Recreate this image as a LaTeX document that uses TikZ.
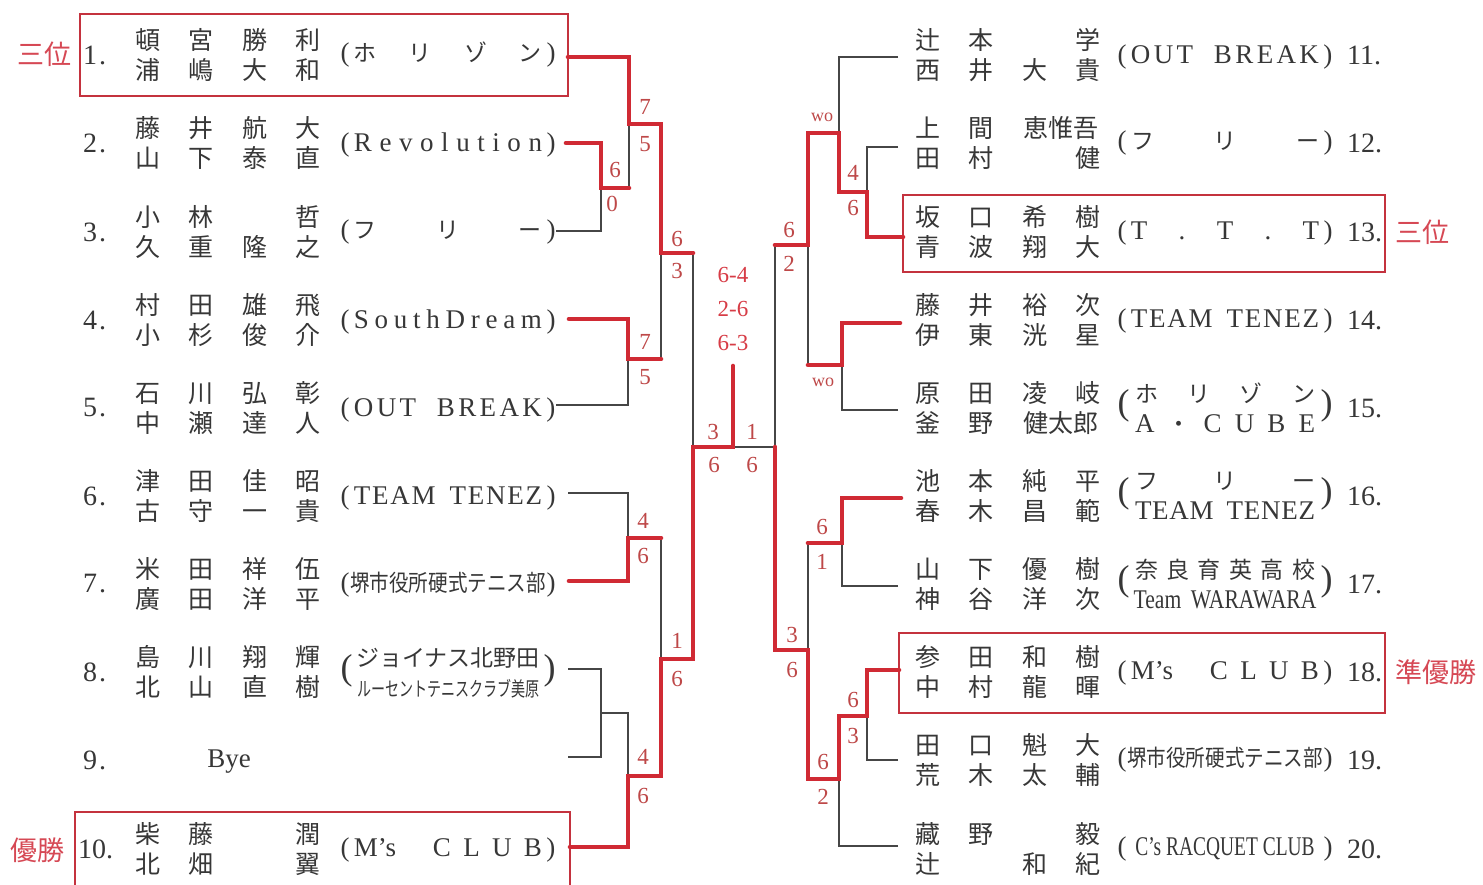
\documentclass[tikz,border=0pt]{standalone}
\usepackage{fontspec}
\usepackage{graphicx}
\setmainfont{Liberation Serif}
\newfontfamily\jp{Noto Sans CJK JP}
\definecolor{bred}{RGB}{208,42,52}
\definecolor{boxc}{RGB}{196,50,62}
\definecolor{lred}{RGB}{214,72,84}
\definecolor{scol}{RGB}{190,72,72}
\definecolor{fred}{RGB}{215,60,70}
\definecolor{txt}{RGB}{55,55,55}
\definecolor{lgray}{RGB}{70,70,70}
\newcommand\NR[4]{\makebox[53.5pt]{#1}\makebox[53.5pt]{#2}\makebox[53.5pt]{#3}\makebox[53.5pt]{#4}}
\newcommand\NRt[3]{\makebox[53.5pt]{#1}\makebox[53.5pt]{#2}\makebox[107pt]{#3}}
\newcommand\J[1]{{\jp #1}}
\newcommand\K[1]{{\jp\fontsize{23}{30}\selectfont #1}}
\newcommand\TS[1]{\makebox[215pt][s]{#1}}
\newcommand\BP[1]{{\fontsize{36}{36}\selectfont #1}}
\newcommand\TD[2]{\makebox[215pt][s]{\BP{(}\hfill\parbox[c]{188pt}{\centering #1\\#2}\hfill\BP{)}}}
\newcommand\OB{\TS{(\,O\hfill U\hfill T\hspace{14pt}\hfill\hfill B\hfill R\hfill E\hfill A\hfill K\,)}}
\newcommand\TT{T\hfill E\hfill A\hfill M\hspace{12pt}\hfill T\hfill E\hfill N\hfill E\hfill Z}
\begin{document}
\begin{tikzpicture}[x=1pt,y=-1pt,
  blk/.style={draw=lgray,line width=1.3pt},
  rd/.style={draw=bred,line width=4.6pt,line join=miter,line cap=round},
  boxst/.style={draw=boxc,line width=2.6pt},
  pn/.style={font=\jp\fontsize{25}{30}\selectfont,text=txt,inner sep=0pt,align=center},
  tn/.style={font=\fontsize{27}{30}\selectfont,text=txt,inner sep=0pt},
  num/.style={font=\fontsize{28}{30}\selectfont,text=txt,inner sep=0pt,anchor=west},
  lab/.style={font=\jp\fontsize{27}{30}\selectfont,text=lred,inner sep=0pt},
  sc/.style={font=\fontsize{23}{26}\selectfont,text=scol,inner sep=0pt},
  wo/.style={font=\fontsize{18}{20}\selectfont,text=scol,inner sep=0pt},
  fs/.style={font=\fontsize{23}{26}\selectfont,text=fred,inner sep=0pt}]
\useasboundingbox (0,0) rectangle (1483,885);
\fill[white] (0,0) rectangle (1483,885);

% ---------- boxes ----------
\draw[boxst] (80,14) rectangle (568,96);
\draw[boxst] (75,812) rectangle (570,890);
\draw[boxst] (903,195) rectangle (1385,272);
\draw[boxst] (899,633) rectangle (1385,713);

% ---------- labels ----------
\node[lab] (l1) at (44,54) {三位};
\node[lab] (l10) at (37,850) {優勝};
\node[lab] (l13) at (1422,232) {三位};
\node[lab] (l18) at (1436,672) {準優勝};

% ---------- left numbers ----------
\node[num] (n1) at (83,55) {1\kern2pt.};
\node[num] (n2) at (83,143) {2\kern2pt.};
\node[num] (n3) at (83,232) {3\kern2pt.};
\node[num] (n4) at (83,320) {4\kern2pt.};
\node[num] (n5) at (83,408) {5\kern2pt.};
\node[num] (n6) at (83,496) {6\kern2pt.};
\node[num] (n7) at (83,584) {7\kern2pt.};
\node[num] (n8) at (83,672) {8\kern2pt.};
\node[num] (n9) at (83,760) {9\kern2pt.};
\node[num] (n10) at (78,849) {10.};
% ---------- right numbers ----------
\node[num] (n11) at (1347,55) {11.};
\node[num] (n12) at (1347,143) {12.};
\node[num] (n13) at (1347,232) {13.};
\node[num] (n14) at (1347,320) {14.};
\node[num] (n15) at (1347,408) {15.};
\node[num] (n16) at (1347,496) {16.};
\node[num] (n17) at (1347,584) {17.};
\node[num] (n18) at (1347,672) {18.};
\node[num] (n19) at (1347,760) {19.};
\node[num] (n20) at (1347,849) {20.};

% ---------- left names ----------
\node[pn] (p1) at (228,55) {\NR{頓}{宮}{勝}{利}\\\NR{浦}{嶋}{大}{和}};
\node[pn] (p2) at (228,143) {\NR{藤}{井}{航}{大}\\\NR{山}{下}{泰}{直}};
\node[pn] (p3) at (228,232) {\NR{小}{林}{}{哲}\\\NR{久}{重}{隆}{之}};
\node[pn] (p4) at (228,320) {\NR{村}{田}{雄}{飛}\\\NR{小}{杉}{俊}{介}};
\node[pn] (p5) at (228,408) {\NR{石}{川}{弘}{彰}\\\NR{中}{瀬}{達}{人}};
\node[pn] (p6) at (228,496) {\NR{津}{田}{佳}{昭}\\\NR{古}{守}{一}{貴}};
\node[pn] (p7) at (228,584) {\NR{米}{田}{祥}{伍}\\\NR{廣}{田}{洋}{平}};
\node[pn] (p8) at (228,672) {\NR{島}{川}{翔}{輝}\\\NR{北}{山}{直}{樹}};
\node[tn,font=\fontsize{27}{30}\selectfont] (p9) at (229,762) {Bye};
\node[pn] (p10) at (228,849) {\NR{柴}{藤}{}{潤}\\\NR{北}{畑}{}{翼}};
% ---------- right names ----------
\node[pn] (p11) at (1008,55) {\NR{辻}{本}{}{学}\\\NR{西}{井}{大}{貴}};
\node[pn] (p12) at (1008,143) {\NRt{上}{間}{恵惟吾}\\\NR{田}{村}{}{健}};
\node[pn] (p13) at (1008,232) {\NR{坂}{口}{希}{樹}\\\NR{青}{波}{翔}{大}};
\node[pn] (p14) at (1008,320) {\NR{藤}{井}{裕}{次}\\\NR{伊}{東}{洸}{星}};
\node[pn] (p15) at (1008,408) {\NR{原}{田}{凌}{岐}\\\NRt{釜}{野}{健太郎}};
\node[pn] (p16) at (1008,496) {\NR{池}{本}{純}{平}\\\NR{春}{木}{昌}{範}};
\node[pn] (p17) at (1008,584) {\NR{山}{下}{優}{樹}\\\NR{神}{谷}{洋}{次}};
\node[pn] (p18) at (1008,672) {\NR{参}{田}{和}{樹}\\\NR{中}{村}{龍}{暉}};
\node[pn] (p19) at (1008,760) {\NR{田}{口}{魁}{大}\\\NR{荒}{木}{太}{輔}};
\node[pn] (p20) at (1008,849) {\NR{藏}{野}{}{毅}\\\NR{辻}{}{和}{紀}};

% ---------- left teams ----------
\node[tn] (tm1) at (448,55) {\TS{(\,\K{ホ}\hfill\K{リ}\hfill\K{ゾ}\hfill\K{ン}\,)}};
\node[tn] (tm2) at (448,145) {\TS{(\,R\hfill e\hfill v\hfill o\hfill l\hfill u\hfill t\hfill i\hfill o\hfill n\,)}};
\node[tn] (tm3) at (448,232) {\TS{(\,\K{フ}\hfill\K{リ}\hfill\K{ー}\,)}};
\node[tn] (tm4) at (448,322) {\TS{(\,S\hfill o\hfill u\hfill t\hfill h\hfill D\hfill r\hfill e\hfill a\hfill m\,)}};
\node[tn] (tm5) at (448,410) {\OB};
\node[tn] (tm6) at (448,498) {\TS{(\,\TT\,)}};
\node[tn] (tm7) at (448,585) {\TS{(\hfill\scalebox{0.85}[1]{\K{堺市役所硬式テニス部}}\hfill)}};
\node[tn] (tm8) at (448,673) {\TD{\K{ジョイナス北野田}}{\scalebox{0.7}[1]{\jp\fontsize{20}{30}\selectfont ルーセントテニスクラブ美原}}};
\node[tn] (tm10) at (448,850) {\TS{(\,M's\hfill\hfill\hfill C\hfill L\hfill U\hfill B\,)}};
% ---------- right teams ----------
\node[tn] (tm11) at (1225,57) {\OB};
\node[tn] (tm12) at (1225,143) {\TS{(\,\K{フ}\hfill\K{リ}\hfill\K{ー}\,)}};
\node[tn] (tm13) at (1225,233) {\TS{(\,T\hfill.\hfill T\hfill.\hfill T\,)}};
\node[tn] (tm14) at (1225,321) {\TS{(\,\TT\,)}};
\node[tn] (tm15) at (1225,408) {\TD{\makebox[180pt][s]{\K{ホ}\hfill\K{リ}\hfill\K{ゾ}\hfill\K{ン}}}{\makebox[180pt][s]{A\hfill\K{・}\hfill C\hfill U\hfill B\hfill E}}};
\node[tn] (tm16) at (1225,496) {\TD{\makebox[180pt][s]{\K{フ}\hfill\K{リ}\hfill\K{ー}}}{\makebox[180pt][s]{\TT}}};
\node[tn] (tm17) at (1225,584) {\TD{\makebox[180pt][s]{\K{奈}\hfill\K{良}\hfill\K{育}\hfill\K{英}\hfill\K{高}\hfill\K{校}}}{\scalebox{0.8}[1]{Team\hspace{12pt}WARAWARA}}};
\node[tn] (tm18) at (1225,673) {\TS{(\,M's\hfill\hfill\hfill C\hfill L\hfill U\hfill B\,)}};
\node[tn] (tm19) at (1225,760) {\TS{(\hfill\scalebox{0.85}[1]{\K{堺市役所硬式テニス部}}\hfill)}};
\node[tn] (tm20) at (1225,849) {\TS{(\hfill\scalebox{0.72}[1]{C's RACQUET CLUB}\hfill)}};

% ---------- coordinates ----------
\coordinate (A1) at (568,57);
\coordinate (A2) at (566,143);
\coordinate (A3) at (556,231);
\coordinate (A4) at (569,319);
\coordinate (A5) at (556,405);
\coordinate (A6) at (568,493);
\coordinate (A7) at (569,581);
\coordinate (A8) at (568,669);
\coordinate (A9) at (568,757);
\coordinate (A10) at (570,847);
\coordinate (J23) at (601,188);
\coordinate (J123) at (629,124);
\coordinate (J45) at (628,359);
\coordinate (JQ1) at (661,253);
\coordinate (J67) at (628,538);
\coordinate (J89) at (601,713);
\coordinate (J8910) at (628,776);
\coordinate (JQ2) at (661,659);
\coordinate (JSL) at (693,447);
\coordinate (JF) at (733,447);
\coordinate (JFtop) at (733,366);
\coordinate (JSR) at (775,447);
\coordinate (B11) at (898,57);
\coordinate (B12) at (898,147);
\coordinate (B13) at (903,237);
\coordinate (B14) at (900,323);
\coordinate (B15) at (898,410);
\coordinate (B16) at (901,498);
\coordinate (B17) at (898,586);
\coordinate (B18) at (899,670);
\coordinate (B19) at (898,760);
\coordinate (B20) at (898,846);
\coordinate (K1213) at (867,192);
\coordinate (K11) at (839,133);
\coordinate (K1415) at (842,365);
\coordinate (KQ1) at (808,245);
\coordinate (K1617) at (842,543);
\coordinate (K1819) at (867,716);
\coordinate (K20) at (839,779);
\coordinate (KQ2) at (808,650);

% ---------- black lines ----------
\draw[blk] (A3) -| (J23);
\draw[blk] (J23 -| J123) -- (J123);
\draw[blk] (A5) -| (J45);
\draw[blk] (J45 -| JQ1) -- (JQ1);
\draw[blk] (JQ1 -| JSL) -- (JSL);
\draw[blk] (A6) -| (J67);
\draw[blk] (J67 -| JQ2) -- (JQ2);
\draw[blk] (A8) -| (J89);
\draw[blk] (A9) -| (J89);
\draw[blk] (J89) -| (J8910);
\draw[blk] (JF) -- (JSR) -- (KQ1 -| JSR);
\draw[blk] (B11) -| (K11);
\draw[blk] (B12) -| (K1213);
\draw[blk] (B15) -| (K1415);
\draw[blk] (K1415 -| KQ1) -- (KQ1);
\draw[blk] (B17) -| (K1617);
\draw[blk] (K1617 -| KQ2) -- (KQ2);
\draw[blk] (B19) -| (K1819);
\draw[blk] (B20) -| (K20);

% ---------- red lines ----------
\draw[rd] (A2) -| (J23) -- (J23 -| J123);
\draw[rd] (A1) -| (J123) -| (JQ1) -- (JQ1 -| JSL);
\draw[rd] (A4) -| (J45) -- (J45 -| JQ1);
\draw[rd] (A7) -| (J67) -- (J67 -| JQ2);
\draw[rd] (A10) -| (J8910) -| (JQ2) -| (JSL) -- (JF) -- (JFtop);
\draw[rd] (B13) -| (K1213) -| (K11) -- (K11 -| KQ1) -- (KQ1) -- (KQ1 -| JSR);
\draw[rd] (B14) -| (K1415) -- (K1415 -| KQ1);
\draw[rd] (B16) -| (K1617) -- (K1617 -| KQ2);
\draw[rd] (B18) -| (K1819) -| (K20) -| (KQ2) -| (JSR);

% ---------- scores ----------
\node[sc] (s1) at (615,170) {6};
\node[sc] (s2) at (612,204) {0};
\node[sc] (s3) at (645,107) {7};
\node[sc] (s4) at (645,144) {5};
\node[sc] (s5) at (677,239) {6};
\node[sc] (s6) at (677,271) {3};
\node[sc] (s7) at (645,342) {7};
\node[sc] (s8) at (645,377) {5};
\node[sc] (s9) at (643,521) {4};
\node[sc] (s10) at (643,556) {6};
\node[sc] (s11) at (677,641) {1};
\node[sc] (s12) at (677,679) {6};
\node[sc] (s13) at (643,757) {4};
\node[sc] (s14) at (643,796) {6};
\node[sc] (s15) at (713,432) {3};
\node[sc] (s16) at (752,432) {1};
\node[sc] (s17) at (714,465) {6};
\node[sc] (s18) at (752,465) {6};
\node[fs] (f1) at (733,275) {6-4};
\node[fs] (f2) at (733,309) {2-6};
\node[fs] (f3) at (733,343) {6-3};
\node[wo] (w1) at (822,117) {wo};
\node[wo] (w2) at (823,382) {wo};
\node[sc] (s19) at (853,173) {4};
\node[sc] (s20) at (853,208) {6};
\node[sc] (s21) at (789,230) {6};
\node[sc] (s22) at (789,264) {2};
\node[sc] (s23) at (822,527) {6};
\node[sc] (s24) at (822,562) {1};
\node[sc] (s25) at (792,635) {3};
\node[sc] (s26) at (792,670) {6};
\node[sc] (s27) at (853,700) {6};
\node[sc] (s28) at (853,736) {3};
\node[sc] (s29) at (823,762) {6};
\node[sc] (s30) at (823,797) {2};
\end{tikzpicture}
\end{document}
